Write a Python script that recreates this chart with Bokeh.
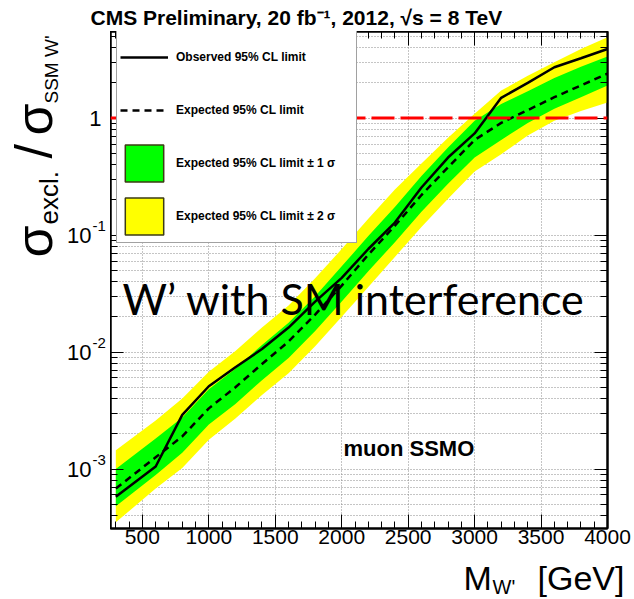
from math import pi

from bokeh.embed import file_html
from bokeh.layouts import column, row
from bokeh.models import (ColumnDataSource, CustomJSTickFormatter, FixedTicker, Label,
                          Legend, LegendItem, LinearAxis, LogAxis, Range1d, Span)
from bokeh.plotting import figure
from bokeh.resources import INLINE

# W' mass points [GeV]
mass = [300, 600, 800, 1000, 1200, 1400, 1600, 1800, 2000, 2200,
        2400, 2600, 2800, 3000, 3200, 3400, 3600, 3800, 4000]
# limits on sigma_excl / sigma_SSM W'
observed = [5.8e-4, 1.05e-3, 2.9e-3, 5.1e-3, 7.4e-3, 1.06e-2, 1.62e-2, 2.7e-2, 4.3e-2, 7.6e-2,
            0.128, 0.255, 0.46, 0.74, 1.49, 2.0, 2.72, 3.25, 3.9]
expected = [6.8e-4, 1.26e-3, 1.9e-3, 3.3e-3, 5.0e-3, 7.9e-3, 1.23e-2, 2.09e-2, 3.7e-2, 6.8e-2,
            0.12, 0.22, 0.38, 0.65, 0.91, 1.17, 1.51, 1.9, 2.4]
exp_1sigma_lo = [4.8e-4, 8.9e-4, 1.38e-3, 2.4e-3, 3.6e-3, 5.75e-3, 8.9e-3, 1.51e-2, 2.7e-2, 4.9e-2,
                 8.7e-2, 0.158, 0.275, 0.46, 0.65, 0.91, 1.2, 1.51, 1.9]
exp_1sigma_hi = [1.0e-3, 1.82e-3, 2.75e-3, 4.8e-3, 7.2e-3, 1.15e-2, 1.78e-2, 3.0e-2, 5.4e-2, 9.8e-2,
                 0.174, 0.32, 0.56, 0.95, 1.32, 1.7, 2.2, 2.75, 3.36]
exp_2sigma_lo = [3.5e-4, 6.8e-4, 1.02e-3, 1.78e-3, 2.7e-3, 4.3e-3, 6.6e-3, 1.12e-2, 2.0e-2, 3.6e-2,
                 6.5e-2, 0.117, 0.204, 0.35, 0.49, 0.71, 0.95, 1.15, 1.36]
exp_2sigma_hi = [1.45e-3, 2.6e-3, 4.0e-3, 6.8e-3, 1.02e-2, 1.62e-2, 2.5e-2, 4.27e-2, 7.6e-2, 0.138,
                 0.245, 0.41, 0.68, 1.09, 1.72, 2.3, 3.0, 3.9, 4.9]
ssm_ratio = 1.0

x_ticks = [500, 1000, 1500, 2000, 2500, 3000, 3500, 4000]
x_minor = [m for m in range(300, 4000, 100) if m % 500 != 0]
y_ticks = [1e-3, 1e-2, 1e-1, 1.0]
y_minor = [k * 10.0 ** e for e in range(-4, 1) for k in range(2, 10) if 3.1e-4 < k * 10.0 ** e < 5.5]
y_tick_base = ["10", "10", "10", "1"]
y_tick_exp = ["-3", "-2", "-1", ""]

W, H = 634, 599
FL, FR, FT, FB = 110, 607, 31, 528   # frame edges on the page
XB = 558                             # bottom of the tick-label strip
SANS = "Liberation Sans"
K_SANS, K_LATO = 0.36, 0.40          # baseline correction, fraction of font size

x_range = Range1d(260, 4000)
y_range = Range1d(3.1e-4, 5.5)


def put(fig, text, px, py, size, fx0, fy1, font=SANS, style="normal",
        align="left", angle=0.0, k=K_SANS):
    """Place text whose baseline starts at page pixel (px, py)."""
    if angle == 0.0:
        py = py - k * size
    else:
        px = px - k * size
    fig.add_layout(Label(x=px - fx0, y=fy1 - py, x_units="screen", y_units="screen",
                         text=text, text_font=font, text_font_size=f"{size}px",
                         text_font_style=style, text_align=align,
                         text_baseline="alphabetic", angle=angle, text_color="black"))


def text_panel(w, h, yr=None, log=False, **borders):
    f = figure(width=w, height=h, x_range=Range1d(0, w),
               y_range=yr if yr is not None else Range1d(0, h),
               y_axis_type="log" if log else "linear",
               x_axis_location=None, y_axis_location=None,
               output_backend="svg", toolbar_location=None,
               min_border=0, **borders)
    f.outline_line_color = None
    f.grid.visible = False
    f.background_fill_color = "white"
    f.border_fill_color = "white"
    return f


# ---------------- main plot ----------------
p = figure(width=W - FL, height=XB - FT, y_axis_type="log",
           x_range=x_range, y_range=y_range,
           output_backend="svg", toolbar_location=None,
           min_border_left=0, min_border_right=W - FR,
           min_border_top=0, min_border_bottom=XB - FB)
p.background_fill_color = "white"
p.border_fill_color = "white"
p.outline_line_color = "black"
p.outline_line_width = 2

blank = CustomJSTickFormatter(code="return ''")


def style_axis(ax, major_len, minor_len, labelled=False):
    ax.axis_line_color = "black"
    ax.axis_line_width = 2
    ax.major_tick_line_color = "black"
    ax.minor_tick_line_color = "black"
    ax.major_tick_in = major_len
    ax.major_tick_out = 0
    ax.minor_tick_in = minor_len
    ax.minor_tick_out = 0
    if not labelled:
        ax.formatter = blank
        ax.major_label_text_font_size = "0px"
        ax.major_label_standoff = 0


xticker = FixedTicker(ticks=x_ticks, minor_ticks=x_minor)
yticker = FixedTicker(ticks=y_ticks, minor_ticks=y_minor)

xax = p.xaxis[0]
xax.ticker = xticker
style_axis(xax, 14, 7, labelled=True)
xax.major_label_text_font = SANS
xax.major_label_text_font_size = "21px"
xax.major_label_text_color = "black"
xax.major_label_standoff = 1

yax = p.yaxis[0]
yax.ticker = yticker
style_axis(yax, 13, 7)

top_ax = LinearAxis(ticker=xticker)
style_axis(top_ax, 14, 7)
p.add_layout(top_ax, "above")
right_ax = LogAxis(ticker=yticker)
style_axis(right_ax, 13, 7)
p.add_layout(right_ax, "right")

for g in (p.xgrid, p.ygrid):
    g.grid_line_color = "#8a8a8a"
    g.grid_line_dash = "1 2"
p.ygrid.minor_grid_line_color = "#8a8a8a"
p.ygrid.minor_grid_line_dash = "1 2"

src = ColumnDataSource(dict(mass=mass, obs=observed, exp=expected,
                            lo1=exp_1sigma_lo, hi1=exp_1sigma_hi,
                            lo2=exp_2sigma_lo, hi2=exp_2sigma_hi))

# outlined swatches for the legend; drawn first so the bands cover them
g_key = p.quad(left="mass", right="mass", bottom="exp", top="exp", source=src,
               fill_color="#00ff00", line_color="#3c3c14", line_width=1.5)
y_key = p.quad(left="mass", right="mass", bottom="exp", top="exp", source=src,
               fill_color="#ffff00", line_color="#3c3c14", line_width=1.5)

p.varea(x="mass", y1="lo2", y2="hi2", source=src, fill_color="#ffff00")
p.varea(x="mass", y1="lo1", y2="hi1", source=src, fill_color="#00ff00")
obs_r = p.line("mass", "obs", source=src, line_color="black", line_width=2.5)
exp_r = p.line("mass", "exp", source=src, line_color="black", line_width=2.5, line_dash="7 5")

p.add_layout(Span(location=ssm_ratio, dimension="width", line_color="#ff0000",
                  line_width=3, line_dash="23 6"))

legend = Legend(items=[
    LegendItem(label="Observed 95% CL limit", renderers=[obs_r]),
    LegendItem(label="Expected 95% CL limit", renderers=[exp_r]),
    LegendItem(label="Expected 95% CL limit \u00b1 1 \u03c3", renderers=[g_key]),
    LegendItem(label="Expected 95% CL limit \u00b1 2 \u03c3", renderers=[y_key]),
], location=(116 - FL, FB - 243), margin=0, padding=3, spacing=7,
    glyph_width=48, glyph_height=46, label_height=46, label_width=177, label_standoff=8,
    label_text_font=SANS, label_text_font_style="bold", label_text_font_size="12px",
    label_text_color="black", border_line_color="#444444", border_line_width=1.5,
    background_fill_color="white", background_fill_alpha=1.0)
p.add_layout(legend)

put(p, "W\u2019 with SM interference", 122, 315, 43, FL, FB, font="Lato", k=K_LATO)
put(p, "muon SSMO", 343, 456, 22, FL, FB, style="bold")

# ---------------- title strip ----------------
top = text_panel(W, FT)
put(top, "CMS Preliminary,  20 fb\u207b\u00b9,  2012,  \u221as = 8 TeV", 90, 25, 21, 0, FT,
    style="bold")

# ---------------- left strip: y tick labels and y title ----------------
left = text_panel(FL, XB - FT, yr=y_range, log=True, min_border_bottom=XB - FB)
for val, base, ex in zip(y_ticks, y_tick_base, y_tick_exp):
    right_edge = 91 if ex else 101
    left.add_layout(Label(x=right_edge, y=val, x_units="screen", y_units="data", text=base,
                          text_font=SANS, text_font_size="22px", text_align="right",
                          text_baseline="alphabetic", text_color="black"))
    if ex:
        left.add_layout(Label(x=92, y=val, x_units="screen", y_units="data", text=ex,
                              y_offset=9, text_font=SANS, text_font_size="15px",
                              text_align="left", text_baseline="alphabetic",
                              text_color="black"))

put(left, "\u03c3", 52, 257, 52, 0, FB, angle=pi / 2)
put(left, "excl.", 58, 224, 26, 0, FB, angle=pi / 2)
put(left, "/", 52, 158, 52, 0, FB, angle=pi / 2)
put(left, "\u03c3", 52, 135, 52, 0, FB, angle=pi / 2)
put(left, "SSM W'", 58, 103, 19, 0, FB, angle=pi / 2)

# ---------------- bottom strip: x title ----------------
bottom = text_panel(W, H - XB)
put(bottom, "M", 463, 590, 34, 0, H)
put(bottom, "W'", 492, 594, 20, 0, H)
put(bottom, "[GeV]", 537, 590, 34, 0, H)

page = column(top, row(left, p), bottom)
open("out.html", "w").write(file_html(page, INLINE))
